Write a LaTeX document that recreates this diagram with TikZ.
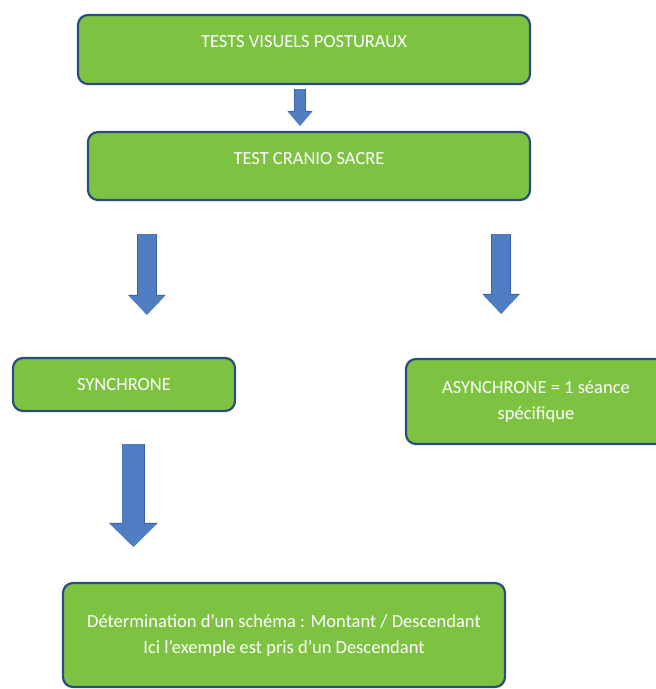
\documentclass[tikz,border=0pt]{standalone}
\usepackage{fontspec}
\setmainfont{Carlito}
\usetikzlibrary{arrows.meta}
\definecolor{boxGreen}{HTML}{7EC242}
\definecolor{boxEdge}{HTML}{2B4C7E}
\definecolor{arrowBlue}{HTML}{4F7FC2}
\definecolor{arrowEdge}{HTML}{3A62A0}

\begin{document}
\begin{tikzpicture}[
          x=1pt, y=-1pt,
          box/.style={rectangle, rounded corners=10pt, draw=boxEdge, line width=2.2pt,
                      fill=boxGreen, text=white, align=center, inner sep=0pt,
                      font=\fontsize{18.5}{26}\selectfont},
          raised/.style={text height=12.5pt, text depth=16pt},
          smallarrow/.style={draw=arrowBlue, line width=10pt, -{Triangle[width=22pt,length=14pt]},
                      preaction={draw=arrowEdge, line width=11.6pt, -{Triangle[width=24.4pt,length=15pt]}}},
          midarrow/.style={draw=arrowBlue, line width=18pt, -{Triangle[width=34pt,length=19pt]},
                      preaction={draw=arrowEdge, line width=19.6pt, -{Triangle[width=36.4pt,length=20pt]}}},
          bigarrow/.style={draw=arrowBlue, line width=22pt, -{Triangle[width=45pt,length=23pt]},
                      preaction={draw=arrowEdge, line width=23.6pt, -{Triangle[width=47.4pt,length=24pt]}}}
        ]
        \useasboundingbox (0,0) rectangle (656,689);
        \node[box, raised, minimum width=452pt, minimum height=69pt] (tests) at (304,49.5) {TESTS VISUELS POSTURAUX};
        \node[box, raised, minimum width=442pt, minimum height=68pt] (cranio) at (309,166) {TEST CRANIO SACRE};
        \node[box, minimum width=222pt, minimum height=53pt] (sync) at (124,384.5) {SYNCHRONE};
        \node[box, minimum width=260pt, minimum height=85pt] (async) at (536,401.5) {ASYNCHRONE = 1 séance\\ spécifique};
        \node[box, minimum width=442pt, minimum height=104pt] (schema) at (284,635) {Détermination d'un schéma : Montant / Descendant\\ Ici l'exemple est pris d'un Descendant};
        \draw[smallarrow, shorten <=4pt, shorten >=5pt]
          ([xshift=-4pt]tests.south) -- ([xshift=-4pt]tests.south |- cranio.north);
        \draw[midarrow, shorten <=33pt, shorten >=42pt]
          ([xshift=60pt]cranio.south west) -- ([xshift=60pt]cranio.south west |- sync.north);
        \draw[midarrow, shorten <=33pt, shorten >=44pt]
          ([xshift=-30pt]cranio.south east) -- ([xshift=-30pt]cranio.south east |- async.north);
        \draw[bigarrow, shorten <=32pt, shorten >=35pt]
          ([xshift=121.5pt]sync.south west) -- ([xshift=121.5pt]sync.south west |- schema.north);
      \end{tikzpicture}
\end{document}
